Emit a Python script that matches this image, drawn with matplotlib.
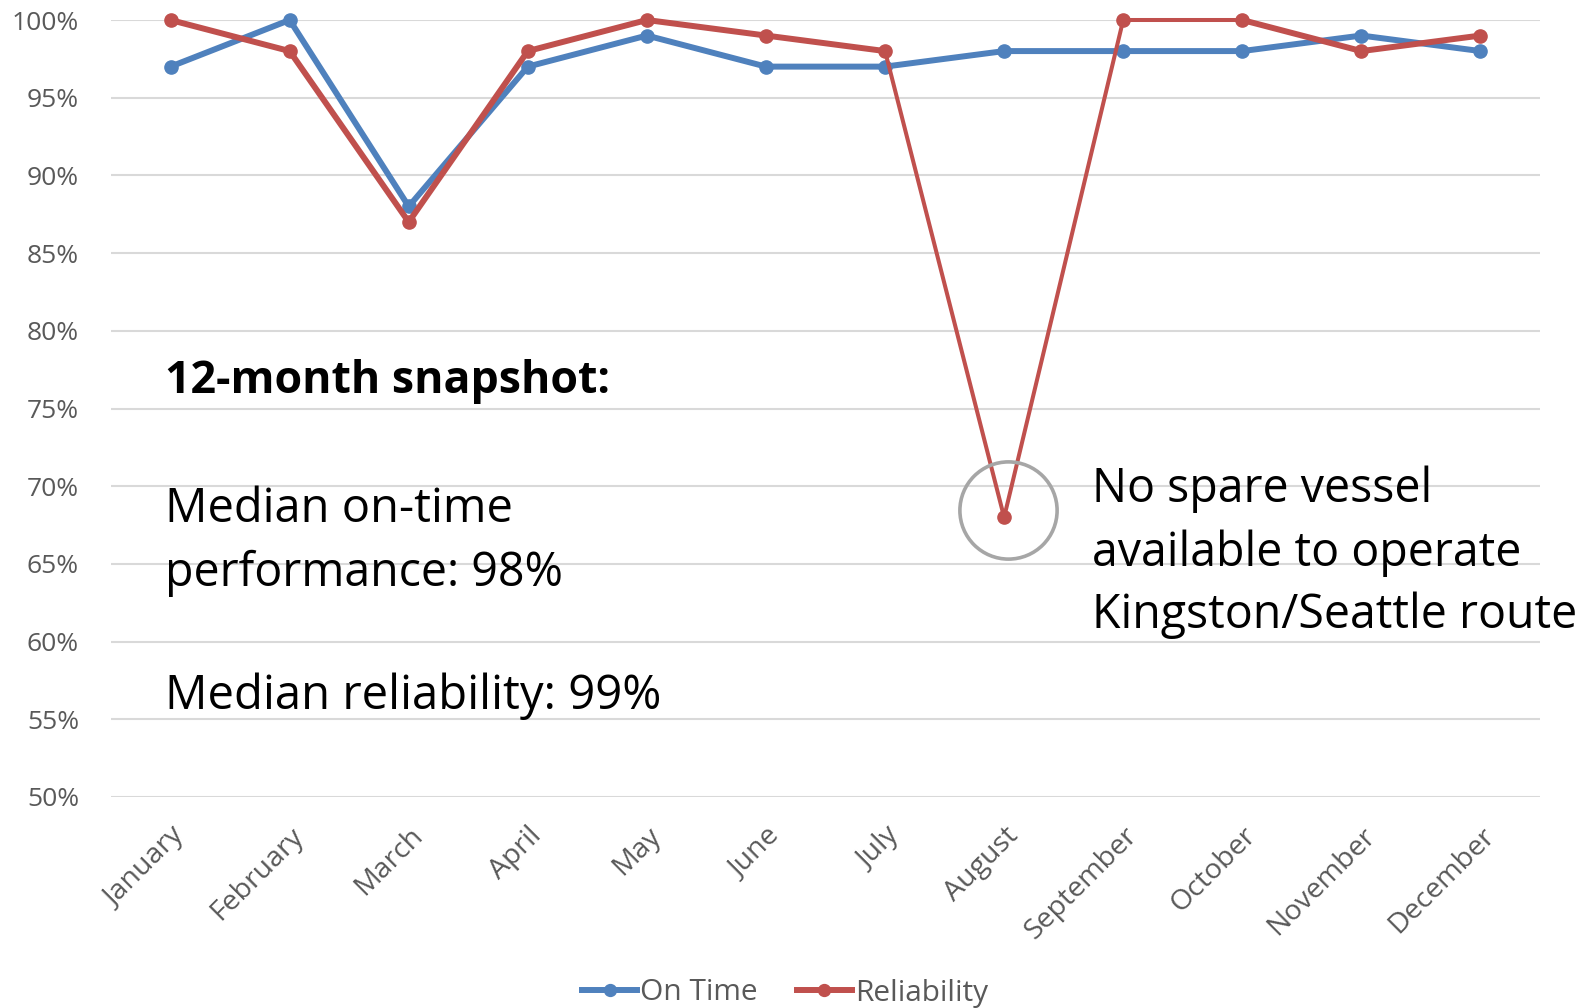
import matplotlib
matplotlib.use("Agg")
import matplotlib.pyplot as plt
from matplotlib.ticker import FuncFormatter, MultipleLocator

months = ["January", "February", "March", "April", "May", "June", "July",
          "August", "September", "October", "November", "December"]
on_time = [97, 100, 88, 97, 99, 97, 97, 98, 98, 98, 99, 98]
reliability = [100, 98, 87, 98, 100, 99, 98, 68, 100, 100, 98, 99]

BLUE = "#4F81BD"
RED = "#C0504D"
GRAY_TXT = "#595959"
FONT = "Open Sans"

plt.rcParams["font.family"] = [FONT, "DejaVu Sans"]

W, H = 1589, 1008
fig = plt.figure(figsize=(W / 100, H / 100), dpi=100)
left, right = 111 / W, 1540 / W
top, bottom = 1 - 20 / H, 1 - 797 / H
ax = fig.add_axes([left, bottom, right - left, top - bottom])

x = list(range(len(months)))
ax.plot(x, on_time, color=BLUE, lw=4.3, marker="o", ms=9.5, label="On Time",
        solid_joinstyle="round", zorder=3, clip_on=False)
# reliability: the segments around the August dip are drawn thinner in the original
ax.plot(x[:7], reliability[:7], color=RED, lw=4.3, solid_joinstyle="round",
        zorder=4, clip_on=False)
ax.plot(x[6:10], reliability[6:10], color=RED, lw=2.9, solid_joinstyle="round",
        zorder=4, clip_on=False)
ax.plot(x[9:], reliability[9:], color=RED, lw=4.3, solid_joinstyle="round",
        zorder=4, clip_on=False)
ax.plot(x, reliability, color=RED, lw=0, marker="o", ms=9.5, zorder=4,
        clip_on=False)
ax.plot([], [], color=RED, lw=4.3, marker="o", ms=9.5, label="Reliability")

ax.set_xlim(-0.5, len(months) - 0.5)
ax.set_ylim(50, 100)
ax.yaxis.set_major_locator(MultipleLocator(5))
ax.yaxis.set_major_formatter(FuncFormatter(lambda v, p: f"{v:.0f}%"))
ax.grid(axis="y", color="#D9D9D9", lw=1.5, zorder=0)
ax.set_axisbelow(True)
for s in ax.spines.values():
    s.set_visible(False)
ax.tick_params(axis="both", length=0)
ax.tick_params(axis="y", pad=23, labelsize=19, labelcolor=GRAY_TXT)
ax.set_xticks(x)
ax.set_xticklabels(months, rotation=45, ha="right", va="top",
                   rotation_mode="anchor", fontsize=20.5, color=GRAY_TXT)
ax.tick_params(axis="x", pad=18)

# circle highlighting August dip
ax.plot([7.03], [68.5], marker="o", ms=70, mfc="none", mec="#A6A6A6",
        mew=2.6, zorder=5, clip_on=False)

# annotation texts (figure pixel coords)
def ftext(px, py, s, size=33.5, **kw):
    fig.text(px / W, 1 - py / H, s, va="baseline", ha="left", fontsize=size,
             color="black", **kw)

ftext(165, 393, "12-month snapshot:", size=32.2, fontweight="bold")
ftext(165, 522, "Median on-time", size=33.9)
ftext(165, 586, "performance: 98%")
ftext(165, 709, "Median reliability: 99%", size=34)
ftext(1092, 502, "No spare vessel")
ftext(1092, 566, "available to operate")
ftext(1092, 628, "Kingston/Seattle route")

leg = fig.legend(loc="center", bbox_to_anchor=(0.494, 1 - 993 / H), ncol=2,
                 frameon=False, fontsize=21.5, handlelength=1.85, handletextpad=0.1,
                 columnspacing=1.3, labelcolor=GRAY_TXT, markerscale=0.9)

fig.savefig("out.png", dpi=100)
